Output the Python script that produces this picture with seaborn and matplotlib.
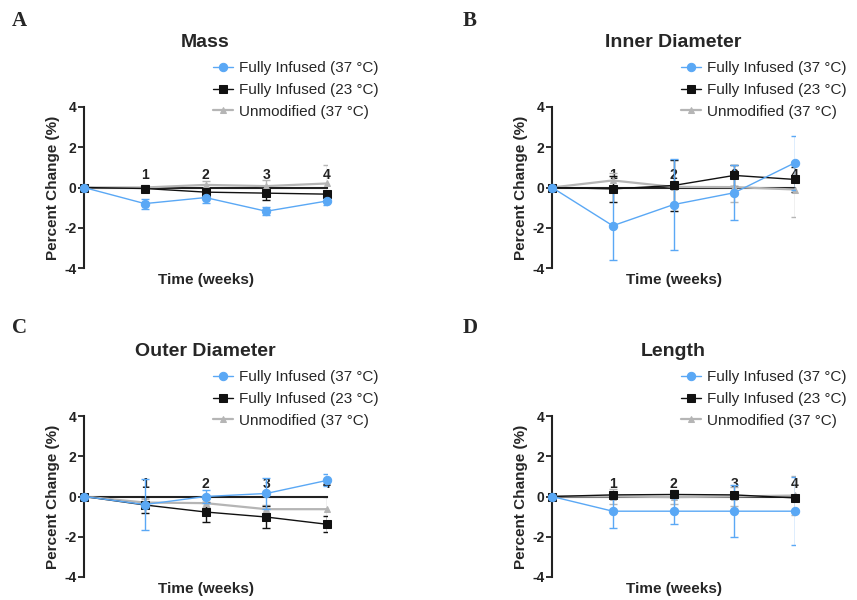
import numpy as np
import pandas as pd
import matplotlib
matplotlib.use("Agg")
import matplotlib.pyplot as plt
import seaborn as sns

sns.set_theme(style="ticks")
plt.rcParams['font.family'] = ['Liberation Sans', 'DejaVu Sans']
plt.rcParams['axes.unicode_minus'] = False

weeks = [0, 1, 2, 3, 4]
series_names = ["Fully Infused (37 °C)", "Fully Infused (23 °C)", "Unmodified (37 °C)"]
panel_titles = ["Mass", "Inner Diameter", "Outer Diameter", "Length"]
panel_letters = ["A", "B", "C", "D"]

# Mass
mass_fi37 = [0, -0.80, -0.50, -1.18, -0.67]
mass_fi37_err = [0, 0.25, 0.25, 0.20, 0.20]
mass_fi23 = [0, -0.05, -0.23, -0.28, -0.33]
mass_fi23_err = [0, 0.10, 0.15, 0.35, 0.15]
mass_un = [0, 0.00, 0.13, 0.07, 0.20]
mass_un_err = [0, 0.10, 0.20, 0.30, 0.90]

# Inner diameter
inner_fi37 = [0, -1.90, -0.85, -0.26, 1.23]
inner_fi37_err = [0, 1.70, 2.28, 1.36, 1.35]
inner_fi23 = [0, -0.07, 0.10, 0.60, 0.40]
inner_fi23_err = [0, 0.65, 1.28, 0.52, 0.60]
inner_un = [0, 0.35, 0.03, 0.02, -0.10]
inner_un_err = [0, 0.35, 0.10, 0.75, 1.35]

# Outer diameter
outer_fi37 = [0, -0.40, 0.00, 0.15, 0.80]
outer_fi37_err = [0, 1.27, 0.30, 0.75, 0.30]
outer_fi23 = [0, -0.42, -0.77, -1.02, -1.38]
outer_fi23_err = [0, 0.42, 0.50, 0.55, 0.40]
outer_un = [0, -0.30, -0.33, -0.63, -0.63]
outer_un_err = [0, 0.20, 0.20, 0.20, 0.60]

# Length
length_fi37 = [0, -0.73, -0.73, -0.73, -0.73]
length_fi37_err = [0, 0.85, 0.65, 1.30, 1.70]
length_fi23 = [0, 0.08, 0.10, 0.08, -0.07]
length_fi23_err = [0, 0.10, 0.10, 0.10, 0.10]
length_un = [0, 0.00, -0.03, 0.00, 0.05]
length_un_err = [0, 0.35, 0.35, 0.45, 0.95]

panels = [
    [(mass_fi37, mass_fi37_err), (mass_fi23, mass_fi23_err), (mass_un, mass_un_err)],
    [(inner_fi37, inner_fi37_err), (inner_fi23, inner_fi23_err), (inner_un, inner_un_err)],
    [(outer_fi37, outer_fi37_err), (outer_fi23, outer_fi23_err), (outer_un, outer_un_err)],
    [(length_fi37, length_fi37_err), (length_fi23, length_fi23_err), (length_un, length_un_err)],
]

colors = ["#5aa8f5", "#111111", "#b5b5b5"]
markers = ["o", "s", "^"]
msizes = [6, 6, 5]
lws = [1.0, 1.0, 1.6]
zorders = [4, 3, 2]

fig = plt.figure(figsize=(8.57, 6.0), dpi=100)
W, H = 857.0, 600.0
ax_lefts = [84, 552, 84, 552]
ax_bottoms = [268, 268, 577, 577]
ax_w, ax_h = 243.0, 161.0
letter_pos = [(12, 26), (463, 26), (12, 333), (463, 333)]

for i in range(4):
    ax = fig.add_axes([ax_lefts[i] / W, 1 - ax_bottoms[i] / H, ax_w / W, ax_h / H])
    for j, (vals, errs) in enumerate(panels[i]):
        df = pd.DataFrame({"week": weeks, "val": vals})
        ax.errorbar(weeks, vals, yerr=errs, fmt="none", ecolor=colors[j],
                    elinewidth=1.0, capsize=3, capthick=1.0, zorder=zorders[j])
        sns.lineplot(data=df, x="week", y="val", ax=ax, color=colors[j],
                     marker=markers[j], markersize=msizes[j], markeredgecolor=colors[j],
                     linewidth=lws[j], label=series_names[j], zorder=zorders[j] + 1,
                     clip_on=False)
    ax.set_xlim(0, 4)
    ax.set_ylim(-4, 4)
    ax.set_yticks([-4, -2, 0, 2, 4])
    ax.set_xticks([1, 2, 3, 4])
    ax.spines['top'].set_visible(False)
    ax.spines['right'].set_visible(False)
    ax.spines['bottom'].set_position(('data', 0))
    for s in ['left', 'bottom']:
        ax.spines[s].set_linewidth(1.5)
        ax.spines[s].set_color('#222222')
    ax.tick_params(axis='y', direction='out', length=4.5, width=1.3, pad=1,
                   labelsize=10, colors='#222222')
    ax.tick_params(axis='x', direction='in', length=0, pad=-14, labelsize=10,
                   colors='#222222')
    for lab in ax.get_xticklabels() + ax.get_yticklabels():
        lab.set_fontweight('bold')
    ax.set_ylabel("Percent Change (%)", fontsize=11, fontweight='bold', labelpad=3)
    ax.set_xlabel("Time (weeks)", fontsize=11, fontweight='bold')
    ax.xaxis.set_label_coords(0.5, -0.03)
    ax.set_title(panel_titles[i], fontsize=14, fontweight='bold', pad=43)
    leg = ax.legend(loc='center left', bbox_to_anchor=(0.53, 1.105), frameon=False,
                    fontsize=11, handlelength=1.3, handletextpad=0.4, labelspacing=0.5,
                    borderaxespad=0, borderpad=0)
    lx, ly = letter_pos[i]
    fig.text(lx / W, 1 - ly / H, panel_letters[i], fontsize=15, fontweight='bold',
             family=['Liberation Serif'], va='baseline', ha='left')

fig.savefig("out.png", dpi=100)
